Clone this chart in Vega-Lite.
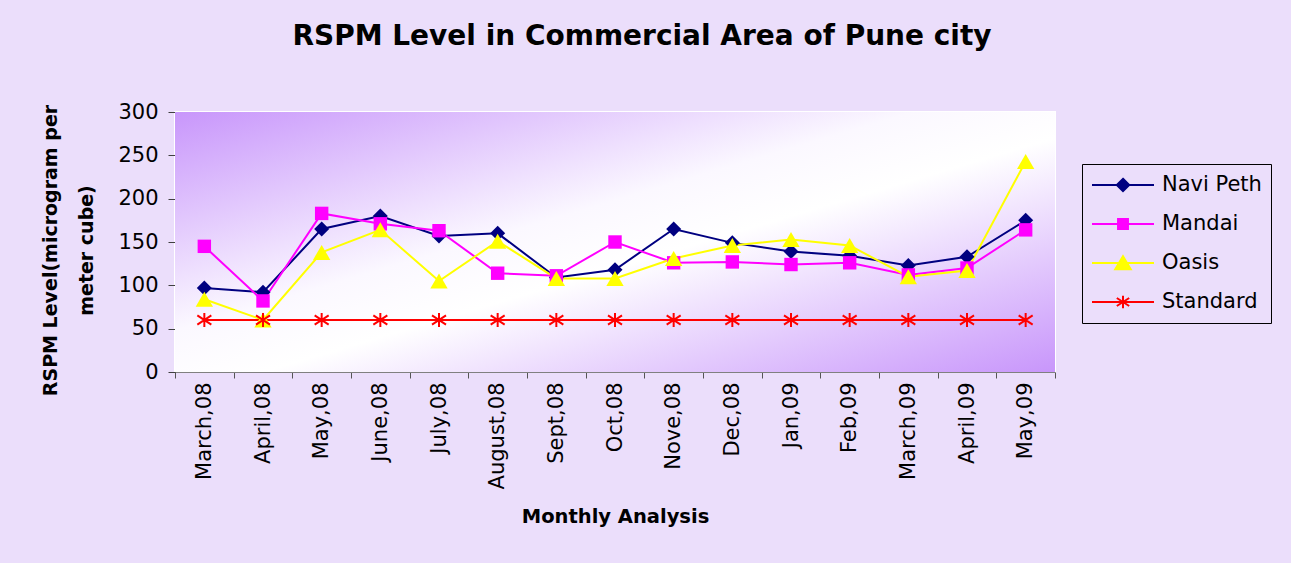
{
  "$schema": "https://vega.github.io/schema/vega-lite/v6.json",
  "width": 880,
  "height": 260,
  "autosize": {"type": "none"},
  "padding": {"left": 175, "top": 112, "right": 236, "bottom": 191},
  "background": "#ebdefb",
  "title": {"text": "RSPM Level in Commercial Area of Pune city", "font": "DejaVu Sans", "fontSize": 28, "fontWeight": "bold", "color": "#000000", "anchor": "middle", "frame": "group", "dx": 27, "offset": 50},
  "config": {"view": {"stroke": "#ffffff", "strokeWidth": 2}, "font": "DejaVu Sans"},
  "datasets": {
    "rspm": [
      {"month": "March,08", "series": "Navi Peth", "value": 97},
      {"month": "April,08", "series": "Navi Peth", "value": 92},
      {"month": "May,08", "series": "Navi Peth", "value": 165},
      {"month": "June,08", "series": "Navi Peth", "value": 180},
      {"month": "July,08", "series": "Navi Peth", "value": 157},
      {"month": "August,08", "series": "Navi Peth", "value": 160},
      {"month": "Sept,08", "series": "Navi Peth", "value": 109},
      {"month": "Oct,08", "series": "Navi Peth", "value": 118},
      {"month": "Nove,08", "series": "Navi Peth", "value": 165},
      {"month": "Dec,08", "series": "Navi Peth", "value": 149},
      {"month": "Jan,09", "series": "Navi Peth", "value": 139},
      {"month": "Feb,09", "series": "Navi Peth", "value": 134},
      {"month": "March,09", "series": "Navi Peth", "value": 123},
      {"month": "April,09", "series": "Navi Peth", "value": 133},
      {"month": "May,09", "series": "Navi Peth", "value": 175},
      {"month": "March,08", "series": "Mandai", "value": 145},
      {"month": "April,08", "series": "Mandai", "value": 82},
      {"month": "May,08", "series": "Mandai", "value": 183},
      {"month": "June,08", "series": "Mandai", "value": 171},
      {"month": "July,08", "series": "Mandai", "value": 163},
      {"month": "August,08", "series": "Mandai", "value": 114},
      {"month": "Sept,08", "series": "Mandai", "value": 111},
      {"month": "Oct,08", "series": "Mandai", "value": 150},
      {"month": "Nove,08", "series": "Mandai", "value": 126},
      {"month": "Dec,08", "series": "Mandai", "value": 127},
      {"month": "Jan,09", "series": "Mandai", "value": 124},
      {"month": "Feb,09", "series": "Mandai", "value": 126},
      {"month": "March,09", "series": "Mandai", "value": 112},
      {"month": "April,09", "series": "Mandai", "value": 120},
      {"month": "May,09", "series": "Mandai", "value": 164},
      {"month": "March,08", "series": "Oasis", "value": 84},
      {"month": "April,08", "series": "Oasis", "value": 60},
      {"month": "May,08", "series": "Oasis", "value": 138},
      {"month": "June,08", "series": "Oasis", "value": 164},
      {"month": "July,08", "series": "Oasis", "value": 105},
      {"month": "August,08", "series": "Oasis", "value": 151},
      {"month": "Sept,08", "series": "Oasis", "value": 108},
      {"month": "Oct,08", "series": "Oasis", "value": 108},
      {"month": "Nove,08", "series": "Oasis", "value": 131},
      {"month": "Dec,08", "series": "Oasis", "value": 146},
      {"month": "Jan,09", "series": "Oasis", "value": 153},
      {"month": "Feb,09", "series": "Oasis", "value": 146},
      {"month": "March,09", "series": "Oasis", "value": 110},
      {"month": "April,09", "series": "Oasis", "value": 117},
      {"month": "May,09", "series": "Oasis", "value": 243},
      {"month": "March,08", "series": "Standard", "value": 60},
      {"month": "April,08", "series": "Standard", "value": 60},
      {"month": "May,08", "series": "Standard", "value": 60},
      {"month": "June,08", "series": "Standard", "value": 60},
      {"month": "July,08", "series": "Standard", "value": 60},
      {"month": "August,08", "series": "Standard", "value": 60},
      {"month": "Sept,08", "series": "Standard", "value": 60},
      {"month": "Oct,08", "series": "Standard", "value": 60},
      {"month": "Nove,08", "series": "Standard", "value": 60},
      {"month": "Dec,08", "series": "Standard", "value": 60},
      {"month": "Jan,09", "series": "Standard", "value": 60},
      {"month": "Feb,09", "series": "Standard", "value": 60},
      {"month": "March,09", "series": "Standard", "value": 60},
      {"month": "April,09", "series": "Standard", "value": 60},
      {"month": "May,09", "series": "Standard", "value": 60}
    ]
  },
  "layer": [
    {
      "data": {"values": [{"panel": "plot"}]},
      "mark": {"type": "rect", "fill": {"gradient": "linear", "x1": 0, "y1": 0, "x2": 1, "y2": 1, "stops": [{"offset": 0, "color": "#c896fb"}, {"offset": 0.42, "color": "#fbf8ff"}, {"offset": 0.55, "color": "#ffffff"}, {"offset": 1, "color": "#c896fb"}]}},
      "encoding": {}
    },
    {
      "data": {"name": "rspm"},
      "encoding": {
        "x": {
          "field": "month", "type": "ordinal",
          "sort": ["March,08", "April,08", "May,08", "June,08", "July,08", "August,08", "Sept,08", "Oct,08", "Nove,08", "Dec,08", "Jan,09", "Feb,09", "March,09", "April,09", "May,09"],
          "scale": {"type": "band", "paddingInner": 0, "paddingOuter": 0},
          "axis": {"title": "Monthly Analysis", "titleFont": "DejaVu Sans", "titleFontSize": 19.5, "titleFontWeight": "bold", "titleColor": "#000000", "titlePadding": 19, "labelAngle": -90, "labelFont": "DejaVu Sans", "labelFontSize": 21, "labelColor": "#000000", "labelPadding": 4, "tickBand": "extent", "tickSize": 6, "tickColor": "#555555", "domainColor": "#808080", "grid": false}
        },
        "y": {
          "field": "value", "type": "quantitative",
          "scale": {"domain": [0, 300], "nice": false},
          "axis": {"title": ["RSPM Level(microgram per", "meter cube)"], "titleFont": "DejaVu Sans", "titleFontSize": 19, "titleFontWeight": "bold", "titleColor": "#000000", "titleLineHeight": 36, "titlePadding": 21, "titleY": 138, "values": [0, 50, 100, 150, 200, 250, 300], "labelFont": "DejaVu Sans", "labelFontSize": 21, "labelColor": "#000000", "labelPadding": 10, "tickSize": 7, "tickColor": "#404040", "domainColor": "#404040", "grid": false}
        }
      },
      "layer": [
        {
          "mark": {"type": "line", "strokeWidth": 2},
          "encoding": {
            "color": {"field": "series", "type": "nominal", "scale": {"domain": ["Mandai", "Navi Peth", "Oasis", "Standard"], "range": ["#ff00ff", "#000080", "#ffff00", "#ff0000"]}, "legend": null}
          }
        },
        {
          "transform": [{"filter": "datum.series == 'Navi Peth'"}],
          "mark": {"type": "point", "filled": true, "shape": "diamond", "size": 225, "opacity": 1},
          "encoding": {
            "color": {"field": "series", "type": "nominal", "scale": {"domain": ["Mandai", "Navi Peth", "Oasis", "Standard"], "range": ["#ff00ff", "#000080", "#ffff00", "#ff0000"]}, "legend": null}
          }
        },
        {
          "transform": [{"filter": "datum.series == 'Mandai'"}],
          "mark": {"type": "point", "filled": true, "shape": "square", "size": 180, "opacity": 1},
          "encoding": {
            "color": {"field": "series", "type": "nominal", "scale": {"domain": ["Mandai", "Navi Peth", "Oasis", "Standard"], "range": ["#ff00ff", "#000080", "#ffff00", "#ff0000"]}, "legend": null}
          }
        },
        {
          "transform": [{"filter": "datum.series == 'Oasis'"}],
          "mark": {"type": "point", "filled": true, "shape": "triangle-up", "size": 300, "opacity": 1},
          "encoding": {
            "color": {"field": "series", "type": "nominal", "scale": {"domain": ["Mandai", "Navi Peth", "Oasis", "Standard"], "range": ["#ff00ff", "#000080", "#ffff00", "#ff0000"]}, "legend": null}
          }
        },
        {
          "transform": [{"filter": "datum.series == 'Standard'"}],
          "mark": {"type": "point", "filled": false, "shape": "M0,-1V1M-1,-0.65L1,0.65M-1,0.65L1,-0.65", "size": 196, "strokeWidth": 2, "opacity": 1},
          "encoding": {
            "color": {"field": "series", "type": "nominal", "scale": {"domain": ["Mandai", "Navi Peth", "Oasis", "Standard"], "range": ["#ff00ff", "#000080", "#ffff00", "#ff0000"]}, "legend": null}
          }
        },
        {
          "mark": {"type": "point", "filled": true, "opacity": 0, "strokeWidth": 2},
          "encoding": {
            "fill": {"field": "series", "type": "nominal", "scale": {"domain": ["Navi Peth", "Mandai", "Oasis", "Standard"], "range": ["#000080", "#ff00ff", "#ffff00", "#ff0000"]},
              "legend": {"title": null, "orient": "none", "legendX": 907, "legendY": 52, "direction": "vertical", "strokeColor": "#000000", "padding": 9, "symbolSize": 3844, "symbolStrokeWidth": 2, "symbolOpacity": 1, "labelFont": "DejaVu Sans", "labelFontSize": 21, "labelColor": "#000000", "labelOffset": 7, "rowPadding": 15, "clipHeight": 24}},
            "stroke": {"field": "series", "type": "nominal", "scale": {"domain": ["Navi Peth", "Mandai", "Oasis", "Standard"], "range": ["#000080", "#ff00ff", "#ffff00", "#ff0000"]},
              "legend": {"title": null, "orient": "none", "legendX": 907, "legendY": 52, "direction": "vertical", "strokeColor": "#000000", "padding": 9, "symbolSize": 3844, "symbolStrokeWidth": 2, "symbolOpacity": 1, "labelFont": "DejaVu Sans", "labelFontSize": 21, "labelColor": "#000000", "labelOffset": 7, "rowPadding": 15, "clipHeight": 24}},
            "shape": {"field": "series", "type": "nominal", "scale": {"domain": ["Navi Peth", "Mandai", "Oasis", "Standard"], "range": ["M-1,0H1M0,-0.2L0.2,0L0,0.2L-0.2,0Z", "M-1,0H1M-0.16,-0.16H0.16V0.16H-0.16Z", "M-1,0H1M0,-0.22L0.25,0.2H-0.25Z", "M-1,0H1M0,-0.2V0.2M-0.2,-0.13L0.2,0.13M-0.2,0.13L0.2,-0.13"]},
              "legend": {"title": null, "orient": "none", "legendX": 907, "legendY": 52, "direction": "vertical", "strokeColor": "#000000", "padding": 9, "symbolSize": 3844, "symbolStrokeWidth": 2, "symbolOpacity": 1, "labelFont": "DejaVu Sans", "labelFontSize": 21, "labelColor": "#000000", "labelOffset": 7, "rowPadding": 15, "clipHeight": 24}}
          }
        }
      ]
    }
  ]
}
